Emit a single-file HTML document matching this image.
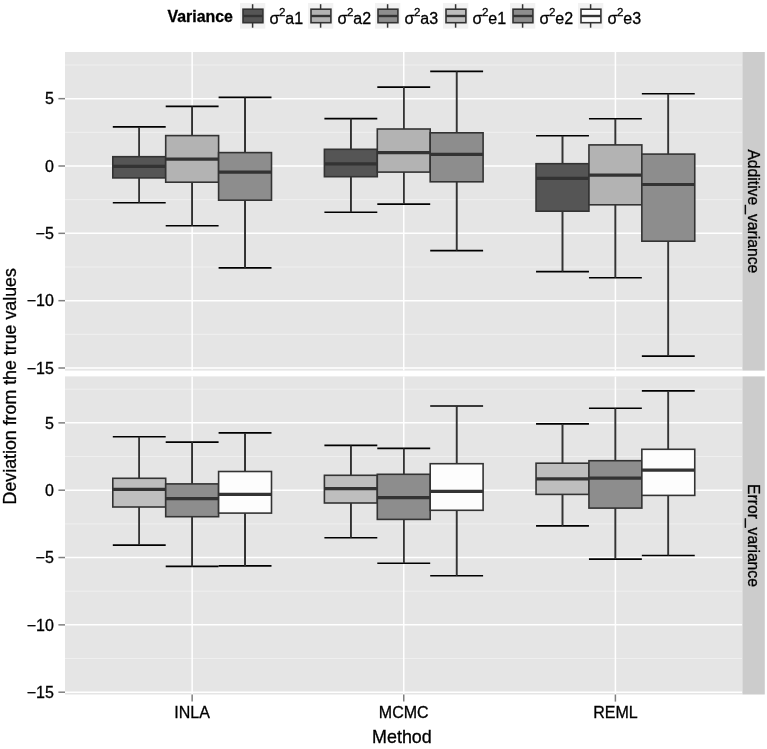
<!DOCTYPE html><html><head><meta charset="utf-8"><style>html,body{margin:0;padding:0;background:#fff;}svg{display:block;will-change:transform;}text{font-family:"Liberation Sans", sans-serif;fill:#000;stroke:#000;stroke-width:0.3px;}</style></head><body><svg width="767" height="749" viewBox="0 0 767 749"><rect x="0" y="0" width="767" height="749" fill="#fff"/><rect x="65.00" y="52.00" width="677.40" height="318.60" fill="#e5e5e5"/><line x1="65.00" x2="742.40" y1="65.00" y2="65.00" stroke="#f2f2f2" stroke-width="0.8"/><line x1="65.00" x2="742.40" y1="132.33" y2="132.33" stroke="#f2f2f2" stroke-width="0.8"/><line x1="65.00" x2="742.40" y1="199.67" y2="199.67" stroke="#f2f2f2" stroke-width="0.8"/><line x1="65.00" x2="742.40" y1="267.00" y2="267.00" stroke="#f2f2f2" stroke-width="0.8"/><line x1="65.00" x2="742.40" y1="334.34" y2="334.34" stroke="#f2f2f2" stroke-width="0.8"/><line x1="65.00" x2="742.40" y1="98.66" y2="98.66" stroke="#fff" stroke-width="1.5"/><line x1="65.00" x2="742.40" y1="166.00" y2="166.00" stroke="#fff" stroke-width="1.5"/><line x1="65.00" x2="742.40" y1="233.34" y2="233.34" stroke="#fff" stroke-width="1.5"/><line x1="65.00" x2="742.40" y1="300.67" y2="300.67" stroke="#fff" stroke-width="1.5"/><line x1="65.00" x2="742.40" y1="368.00" y2="368.00" stroke="#fff" stroke-width="1.5"/><line x1="192.15" x2="192.15" y1="52.00" y2="370.60" stroke="#fff" stroke-width="1.5"/><line x1="403.75" x2="403.75" y1="52.00" y2="370.60" stroke="#fff" stroke-width="1.5"/><line x1="615.40" x2="615.40" y1="52.00" y2="370.60" stroke="#fff" stroke-width="1.5"/><line x1="139.25" x2="139.25" y1="126.90" y2="202.70" stroke="#000" stroke-width="1.5"/><line x1="112.80" x2="165.70" y1="126.90" y2="126.90" stroke="#000" stroke-width="1.6"/><line x1="112.80" x2="165.70" y1="202.70" y2="202.70" stroke="#000" stroke-width="1.6"/><line x1="139.25" x2="139.25" y1="126.90" y2="156.70" stroke="#333" stroke-width="1.5"/><line x1="139.25" x2="139.25" y1="177.90" y2="202.70" stroke="#333" stroke-width="1.5"/><rect x="112.80" y="156.70" width="52.90" height="21.20" fill="#555555" stroke="#333" stroke-width="1.6"/><line x1="112.80" x2="165.70" y1="166.30" y2="166.30" stroke="#333" stroke-width="3.2"/><line x1="192.15" x2="192.15" y1="106.40" y2="225.80" stroke="#000" stroke-width="1.5"/><line x1="165.70" x2="218.60" y1="106.40" y2="106.40" stroke="#000" stroke-width="1.6"/><line x1="165.70" x2="218.60" y1="225.80" y2="225.80" stroke="#000" stroke-width="1.6"/><line x1="192.15" x2="192.15" y1="106.40" y2="135.60" stroke="#333" stroke-width="1.5"/><line x1="192.15" x2="192.15" y1="182.20" y2="225.80" stroke="#333" stroke-width="1.5"/><rect x="165.70" y="135.60" width="52.90" height="46.60" fill="#b3b3b3" stroke="#333" stroke-width="1.6"/><line x1="165.70" x2="218.60" y1="159.10" y2="159.10" stroke="#333" stroke-width="3.2"/><line x1="245.05" x2="245.05" y1="97.40" y2="267.90" stroke="#000" stroke-width="1.5"/><line x1="218.60" x2="271.50" y1="97.40" y2="97.40" stroke="#000" stroke-width="1.6"/><line x1="218.60" x2="271.50" y1="267.90" y2="267.90" stroke="#000" stroke-width="1.6"/><line x1="245.05" x2="245.05" y1="97.40" y2="152.60" stroke="#333" stroke-width="1.5"/><line x1="245.05" x2="245.05" y1="200.20" y2="267.90" stroke="#333" stroke-width="1.5"/><rect x="218.60" y="152.60" width="52.90" height="47.60" fill="#8d8d8d" stroke="#333" stroke-width="1.6"/><line x1="218.60" x2="271.50" y1="172.10" y2="172.10" stroke="#333" stroke-width="3.2"/><line x1="350.85" x2="350.85" y1="118.60" y2="212.30" stroke="#000" stroke-width="1.5"/><line x1="324.40" x2="377.30" y1="118.60" y2="118.60" stroke="#000" stroke-width="1.6"/><line x1="324.40" x2="377.30" y1="212.30" y2="212.30" stroke="#000" stroke-width="1.6"/><line x1="350.85" x2="350.85" y1="118.60" y2="149.30" stroke="#333" stroke-width="1.5"/><line x1="350.85" x2="350.85" y1="176.70" y2="212.30" stroke="#333" stroke-width="1.5"/><rect x="324.40" y="149.30" width="52.90" height="27.40" fill="#555555" stroke="#333" stroke-width="1.6"/><line x1="324.40" x2="377.30" y1="163.80" y2="163.80" stroke="#333" stroke-width="3.2"/><line x1="403.75" x2="403.75" y1="87.10" y2="204.10" stroke="#000" stroke-width="1.5"/><line x1="377.30" x2="430.20" y1="87.10" y2="87.10" stroke="#000" stroke-width="1.6"/><line x1="377.30" x2="430.20" y1="204.10" y2="204.10" stroke="#000" stroke-width="1.6"/><line x1="403.75" x2="403.75" y1="87.10" y2="129.00" stroke="#333" stroke-width="1.5"/><line x1="403.75" x2="403.75" y1="172.10" y2="204.10" stroke="#333" stroke-width="1.5"/><rect x="377.30" y="129.00" width="52.90" height="43.10" fill="#b3b3b3" stroke="#333" stroke-width="1.6"/><line x1="377.30" x2="430.20" y1="152.60" y2="152.60" stroke="#333" stroke-width="3.2"/><line x1="456.65" x2="456.65" y1="71.40" y2="250.60" stroke="#000" stroke-width="1.5"/><line x1="430.20" x2="483.10" y1="71.40" y2="71.40" stroke="#000" stroke-width="1.6"/><line x1="430.20" x2="483.10" y1="250.60" y2="250.60" stroke="#000" stroke-width="1.6"/><line x1="456.65" x2="456.65" y1="71.40" y2="132.80" stroke="#333" stroke-width="1.5"/><line x1="456.65" x2="456.65" y1="181.80" y2="250.60" stroke="#333" stroke-width="1.5"/><rect x="430.20" y="132.80" width="52.90" height="49.00" fill="#8d8d8d" stroke="#333" stroke-width="1.6"/><line x1="430.20" x2="483.10" y1="154.40" y2="154.40" stroke="#333" stroke-width="3.2"/><line x1="562.50" x2="562.50" y1="135.80" y2="271.60" stroke="#000" stroke-width="1.5"/><line x1="536.05" x2="588.95" y1="135.80" y2="135.80" stroke="#000" stroke-width="1.6"/><line x1="536.05" x2="588.95" y1="271.60" y2="271.60" stroke="#000" stroke-width="1.6"/><line x1="562.50" x2="562.50" y1="135.80" y2="163.70" stroke="#333" stroke-width="1.5"/><line x1="562.50" x2="562.50" y1="211.20" y2="271.60" stroke="#333" stroke-width="1.5"/><rect x="536.05" y="163.70" width="52.90" height="47.50" fill="#555555" stroke="#333" stroke-width="1.6"/><line x1="536.05" x2="588.95" y1="178.40" y2="178.40" stroke="#333" stroke-width="3.2"/><line x1="615.40" x2="615.40" y1="118.80" y2="277.80" stroke="#000" stroke-width="1.5"/><line x1="588.95" x2="641.85" y1="118.80" y2="118.80" stroke="#000" stroke-width="1.6"/><line x1="588.95" x2="641.85" y1="277.80" y2="277.80" stroke="#000" stroke-width="1.6"/><line x1="615.40" x2="615.40" y1="118.80" y2="144.90" stroke="#333" stroke-width="1.5"/><line x1="615.40" x2="615.40" y1="204.80" y2="277.80" stroke="#333" stroke-width="1.5"/><rect x="588.95" y="144.90" width="52.90" height="59.90" fill="#b3b3b3" stroke="#333" stroke-width="1.6"/><line x1="588.95" x2="641.85" y1="175.10" y2="175.10" stroke="#333" stroke-width="3.2"/><line x1="668.30" x2="668.30" y1="93.70" y2="356.10" stroke="#000" stroke-width="1.5"/><line x1="641.85" x2="694.75" y1="93.70" y2="93.70" stroke="#000" stroke-width="1.6"/><line x1="641.85" x2="694.75" y1="356.10" y2="356.10" stroke="#000" stroke-width="1.6"/><line x1="668.30" x2="668.30" y1="93.70" y2="154.10" stroke="#333" stroke-width="1.5"/><line x1="668.30" x2="668.30" y1="241.20" y2="356.10" stroke="#333" stroke-width="1.5"/><rect x="641.85" y="154.10" width="52.90" height="87.10" fill="#8d8d8d" stroke="#333" stroke-width="1.6"/><line x1="641.85" x2="694.75" y1="184.50" y2="184.50" stroke="#333" stroke-width="3.2"/><rect x="65.00" y="376.40" width="677.40" height="318.10" fill="#e5e5e5"/><line x1="65.00" x2="742.40" y1="389.20" y2="389.20" stroke="#f2f2f2" stroke-width="0.8"/><line x1="65.00" x2="742.40" y1="456.53" y2="456.53" stroke="#f2f2f2" stroke-width="0.8"/><line x1="65.00" x2="742.40" y1="523.87" y2="523.87" stroke="#f2f2f2" stroke-width="0.8"/><line x1="65.00" x2="742.40" y1="591.20" y2="591.20" stroke="#f2f2f2" stroke-width="0.8"/><line x1="65.00" x2="742.40" y1="658.54" y2="658.54" stroke="#f2f2f2" stroke-width="0.8"/><line x1="65.00" x2="742.40" y1="422.87" y2="422.87" stroke="#fff" stroke-width="1.5"/><line x1="65.00" x2="742.40" y1="490.20" y2="490.20" stroke="#fff" stroke-width="1.5"/><line x1="65.00" x2="742.40" y1="557.53" y2="557.53" stroke="#fff" stroke-width="1.5"/><line x1="65.00" x2="742.40" y1="624.87" y2="624.87" stroke="#fff" stroke-width="1.5"/><line x1="65.00" x2="742.40" y1="692.20" y2="692.20" stroke="#fff" stroke-width="1.5"/><line x1="192.15" x2="192.15" y1="376.40" y2="694.50" stroke="#fff" stroke-width="1.5"/><line x1="403.75" x2="403.75" y1="376.40" y2="694.50" stroke="#fff" stroke-width="1.5"/><line x1="615.40" x2="615.40" y1="376.40" y2="694.50" stroke="#fff" stroke-width="1.5"/><line x1="139.25" x2="139.25" y1="436.70" y2="545.10" stroke="#000" stroke-width="1.5"/><line x1="112.80" x2="165.70" y1="436.70" y2="436.70" stroke="#000" stroke-width="1.6"/><line x1="112.80" x2="165.70" y1="545.10" y2="545.10" stroke="#000" stroke-width="1.6"/><line x1="139.25" x2="139.25" y1="436.70" y2="478.30" stroke="#333" stroke-width="1.5"/><line x1="139.25" x2="139.25" y1="507.00" y2="545.10" stroke="#333" stroke-width="1.5"/><rect x="112.80" y="478.30" width="52.90" height="28.70" fill="#bebebe" stroke="#333" stroke-width="1.6"/><line x1="112.80" x2="165.70" y1="489.30" y2="489.30" stroke="#333" stroke-width="3.2"/><line x1="192.15" x2="192.15" y1="442.10" y2="566.40" stroke="#000" stroke-width="1.5"/><line x1="165.70" x2="218.60" y1="442.10" y2="442.10" stroke="#000" stroke-width="1.6"/><line x1="165.70" x2="218.60" y1="566.40" y2="566.40" stroke="#000" stroke-width="1.6"/><line x1="192.15" x2="192.15" y1="442.10" y2="483.90" stroke="#333" stroke-width="1.5"/><line x1="192.15" x2="192.15" y1="516.70" y2="566.40" stroke="#333" stroke-width="1.5"/><rect x="165.70" y="483.90" width="52.90" height="32.80" fill="#8d8d8d" stroke="#333" stroke-width="1.6"/><line x1="165.70" x2="218.60" y1="498.60" y2="498.60" stroke="#333" stroke-width="3.2"/><line x1="245.05" x2="245.05" y1="432.90" y2="565.90" stroke="#000" stroke-width="1.5"/><line x1="218.60" x2="271.50" y1="432.90" y2="432.90" stroke="#000" stroke-width="1.6"/><line x1="218.60" x2="271.50" y1="565.90" y2="565.90" stroke="#000" stroke-width="1.6"/><line x1="245.05" x2="245.05" y1="432.90" y2="471.50" stroke="#333" stroke-width="1.5"/><line x1="245.05" x2="245.05" y1="513.10" y2="565.90" stroke="#333" stroke-width="1.5"/><rect x="218.60" y="471.50" width="52.90" height="41.60" fill="#fdfdfd" stroke="#333" stroke-width="1.6"/><line x1="218.60" x2="271.50" y1="494.30" y2="494.30" stroke="#333" stroke-width="3.2"/><line x1="350.85" x2="350.85" y1="445.40" y2="537.70" stroke="#000" stroke-width="1.5"/><line x1="324.40" x2="377.30" y1="445.40" y2="445.40" stroke="#000" stroke-width="1.6"/><line x1="324.40" x2="377.30" y1="537.70" y2="537.70" stroke="#000" stroke-width="1.6"/><line x1="350.85" x2="350.85" y1="445.40" y2="475.30" stroke="#333" stroke-width="1.5"/><line x1="350.85" x2="350.85" y1="503.00" y2="537.70" stroke="#333" stroke-width="1.5"/><rect x="324.40" y="475.30" width="52.90" height="27.70" fill="#bebebe" stroke="#333" stroke-width="1.6"/><line x1="324.40" x2="377.30" y1="488.70" y2="488.70" stroke="#333" stroke-width="3.2"/><line x1="403.75" x2="403.75" y1="448.40" y2="563.30" stroke="#000" stroke-width="1.5"/><line x1="377.30" x2="430.20" y1="448.40" y2="448.40" stroke="#000" stroke-width="1.6"/><line x1="377.30" x2="430.20" y1="563.30" y2="563.30" stroke="#000" stroke-width="1.6"/><line x1="403.75" x2="403.75" y1="448.40" y2="474.30" stroke="#333" stroke-width="1.5"/><line x1="403.75" x2="403.75" y1="519.40" y2="563.30" stroke="#333" stroke-width="1.5"/><rect x="377.30" y="474.30" width="52.90" height="45.10" fill="#8d8d8d" stroke="#333" stroke-width="1.6"/><line x1="377.30" x2="430.20" y1="497.60" y2="497.60" stroke="#333" stroke-width="3.2"/><line x1="456.65" x2="456.65" y1="406.00" y2="575.80" stroke="#000" stroke-width="1.5"/><line x1="430.20" x2="483.10" y1="406.00" y2="406.00" stroke="#000" stroke-width="1.6"/><line x1="430.20" x2="483.10" y1="575.80" y2="575.80" stroke="#000" stroke-width="1.6"/><line x1="456.65" x2="456.65" y1="406.00" y2="463.70" stroke="#333" stroke-width="1.5"/><line x1="456.65" x2="456.65" y1="510.30" y2="575.80" stroke="#333" stroke-width="1.5"/><rect x="430.20" y="463.70" width="52.90" height="46.60" fill="#fdfdfd" stroke="#333" stroke-width="1.6"/><line x1="430.20" x2="483.10" y1="491.30" y2="491.30" stroke="#333" stroke-width="3.2"/><line x1="562.50" x2="562.50" y1="423.90" y2="525.90" stroke="#000" stroke-width="1.5"/><line x1="536.05" x2="588.95" y1="423.90" y2="423.90" stroke="#000" stroke-width="1.6"/><line x1="536.05" x2="588.95" y1="525.90" y2="525.90" stroke="#000" stroke-width="1.6"/><line x1="562.50" x2="562.50" y1="423.90" y2="463.20" stroke="#333" stroke-width="1.5"/><line x1="562.50" x2="562.50" y1="494.40" y2="525.90" stroke="#333" stroke-width="1.5"/><rect x="536.05" y="463.20" width="52.90" height="31.20" fill="#bebebe" stroke="#333" stroke-width="1.6"/><line x1="536.05" x2="588.95" y1="478.80" y2="478.80" stroke="#333" stroke-width="3.2"/><line x1="615.40" x2="615.40" y1="408.20" y2="559.10" stroke="#000" stroke-width="1.5"/><line x1="588.95" x2="641.85" y1="408.20" y2="408.20" stroke="#000" stroke-width="1.6"/><line x1="588.95" x2="641.85" y1="559.10" y2="559.10" stroke="#000" stroke-width="1.6"/><line x1="615.40" x2="615.40" y1="408.20" y2="460.70" stroke="#333" stroke-width="1.5"/><line x1="615.40" x2="615.40" y1="508.10" y2="559.10" stroke="#333" stroke-width="1.5"/><rect x="588.95" y="460.70" width="52.90" height="47.40" fill="#8d8d8d" stroke="#333" stroke-width="1.6"/><line x1="588.95" x2="641.85" y1="478.20" y2="478.20" stroke="#333" stroke-width="3.2"/><line x1="668.30" x2="668.30" y1="390.90" y2="555.50" stroke="#000" stroke-width="1.5"/><line x1="641.85" x2="694.75" y1="390.90" y2="390.90" stroke="#000" stroke-width="1.6"/><line x1="641.85" x2="694.75" y1="555.50" y2="555.50" stroke="#000" stroke-width="1.6"/><line x1="668.30" x2="668.30" y1="390.90" y2="449.30" stroke="#333" stroke-width="1.5"/><line x1="668.30" x2="668.30" y1="495.40" y2="555.50" stroke="#333" stroke-width="1.5"/><rect x="641.85" y="449.30" width="52.90" height="46.10" fill="#fdfdfd" stroke="#333" stroke-width="1.6"/><line x1="641.85" x2="694.75" y1="470.20" y2="470.20" stroke="#333" stroke-width="3.2"/><rect x="742.40" y="52.00" width="22.40" height="318.60" fill="#cccccc"/><text x="0" y="0" transform="translate(753.60,211.30) rotate(90)" font-size="15.7" text-anchor="middle" dominant-baseline="central" fill="#1a1a1a">Additive_variance</text><rect x="742.40" y="376.40" width="22.40" height="318.10" fill="#cccccc"/><text x="0" y="0" transform="translate(753.60,535.45) rotate(90)" font-size="15.7" text-anchor="middle" dominant-baseline="central" fill="#1a1a1a">Error_variance</text><line x1="58.4" x2="65.00" y1="98.66" y2="98.66" stroke="#7f7f7f" stroke-width="1.5"/><text x="53.8" y="104.36" font-size="16" text-anchor="end" fill="#1a1a1a">5</text><line x1="58.4" x2="65.00" y1="166.00" y2="166.00" stroke="#7f7f7f" stroke-width="1.5"/><text x="53.8" y="171.70" font-size="16" text-anchor="end" fill="#1a1a1a">0</text><line x1="58.4" x2="65.00" y1="233.34" y2="233.34" stroke="#7f7f7f" stroke-width="1.5"/><text x="53.8" y="239.03" font-size="16" text-anchor="end" fill="#1a1a1a">−5</text><line x1="58.4" x2="65.00" y1="300.67" y2="300.67" stroke="#7f7f7f" stroke-width="1.5"/><text x="53.8" y="306.37" font-size="16" text-anchor="end" fill="#1a1a1a">−10</text><line x1="58.4" x2="65.00" y1="368.00" y2="368.00" stroke="#7f7f7f" stroke-width="1.5"/><text x="53.8" y="373.70" font-size="16" text-anchor="end" fill="#1a1a1a">−15</text><line x1="58.4" x2="65.00" y1="422.87" y2="422.87" stroke="#7f7f7f" stroke-width="1.5"/><text x="53.8" y="428.56" font-size="16" text-anchor="end" fill="#1a1a1a">5</text><line x1="58.4" x2="65.00" y1="490.20" y2="490.20" stroke="#7f7f7f" stroke-width="1.5"/><text x="53.8" y="495.90" font-size="16" text-anchor="end" fill="#1a1a1a">0</text><line x1="58.4" x2="65.00" y1="557.53" y2="557.53" stroke="#7f7f7f" stroke-width="1.5"/><text x="53.8" y="563.24" font-size="16" text-anchor="end" fill="#1a1a1a">−5</text><line x1="58.4" x2="65.00" y1="624.87" y2="624.87" stroke="#7f7f7f" stroke-width="1.5"/><text x="53.8" y="630.57" font-size="16" text-anchor="end" fill="#1a1a1a">−10</text><line x1="58.4" x2="65.00" y1="692.20" y2="692.20" stroke="#7f7f7f" stroke-width="1.5"/><text x="53.8" y="697.90" font-size="16" text-anchor="end" fill="#1a1a1a">−15</text><line x1="192.15" x2="192.15" y1="694.50" y2="701.6" stroke="#7f7f7f" stroke-width="1.5"/><text x="192.15" y="717.6" font-size="16" text-anchor="middle" fill="#1a1a1a">INLA</text><line x1="403.75" x2="403.75" y1="694.50" y2="701.6" stroke="#7f7f7f" stroke-width="1.5"/><text x="403.75" y="717.6" font-size="16" text-anchor="middle" fill="#1a1a1a">MCMC</text><line x1="615.40" x2="615.40" y1="694.50" y2="701.6" stroke="#7f7f7f" stroke-width="1.5"/><text x="615.40" y="717.6" font-size="16" text-anchor="middle" fill="#1a1a1a">REML</text><text x="401.95" y="742.8" font-size="17.9" text-anchor="middle" fill="#000">Method</text><text x="0" y="0" transform="translate(15.8,386.30) rotate(-90)" font-size="17.8" text-anchor="middle" fill="#000">Deviation from the true values</text><text x="167.5" y="21.7" font-size="15.9" font-weight="bold" fill="#000">Variance</text><rect x="240.00" y="3.0" width="25.3" height="25.7" fill="#f2f2f2"/><line x1="252.60" x2="252.60" y1="4.2" y2="27.7" stroke="#333" stroke-width="1.5"/><rect x="243.00" y="9.2" width="19.9" height="13.5" fill="#555555" stroke="#333" stroke-width="1.6"/><line x1="243.00" x2="262.90" y1="16.0" y2="16.0" stroke="#333" stroke-width="2.4"/><text x="269.50" y="23.7" font-size="16" fill="#000">σ</text><text x="278.90" y="16.0" font-size="11.5" fill="#000">2</text><text x="285.30" y="23.7" font-size="16" fill="#000">a1</text><rect x="308.00" y="3.0" width="25.3" height="25.7" fill="#f2f2f2"/><line x1="320.60" x2="320.60" y1="4.2" y2="27.7" stroke="#333" stroke-width="1.5"/><rect x="311.00" y="9.2" width="19.9" height="13.5" fill="#b3b3b3" stroke="#333" stroke-width="1.6"/><line x1="311.00" x2="330.90" y1="16.0" y2="16.0" stroke="#333" stroke-width="2.4"/><text x="337.50" y="23.7" font-size="16" fill="#000">σ</text><text x="346.90" y="16.0" font-size="11.5" fill="#000">2</text><text x="353.30" y="23.7" font-size="16" fill="#000">a2</text><rect x="375.00" y="3.0" width="25.3" height="25.7" fill="#f2f2f2"/><line x1="387.60" x2="387.60" y1="4.2" y2="27.7" stroke="#333" stroke-width="1.5"/><rect x="378.00" y="9.2" width="19.9" height="13.5" fill="#8d8d8d" stroke="#333" stroke-width="1.6"/><line x1="378.00" x2="397.90" y1="16.0" y2="16.0" stroke="#333" stroke-width="2.4"/><text x="404.50" y="23.7" font-size="16" fill="#000">σ</text><text x="413.90" y="16.0" font-size="11.5" fill="#000">2</text><text x="420.30" y="23.7" font-size="16" fill="#000">a3</text><rect x="443.00" y="3.0" width="25.3" height="25.7" fill="#f2f2f2"/><line x1="455.60" x2="455.60" y1="4.2" y2="27.7" stroke="#333" stroke-width="1.5"/><rect x="446.00" y="9.2" width="19.9" height="13.5" fill="#bebebe" stroke="#333" stroke-width="1.6"/><line x1="446.00" x2="465.90" y1="16.0" y2="16.0" stroke="#333" stroke-width="2.4"/><text x="472.50" y="23.7" font-size="16" fill="#000">σ</text><text x="481.90" y="16.0" font-size="11.5" fill="#000">2</text><text x="488.30" y="23.7" font-size="16" fill="#000">e1</text><rect x="510.00" y="3.0" width="25.3" height="25.7" fill="#f2f2f2"/><line x1="522.60" x2="522.60" y1="4.2" y2="27.7" stroke="#333" stroke-width="1.5"/><rect x="513.00" y="9.2" width="19.9" height="13.5" fill="#8d8d8d" stroke="#333" stroke-width="1.6"/><line x1="513.00" x2="532.90" y1="16.0" y2="16.0" stroke="#333" stroke-width="2.4"/><text x="539.50" y="23.7" font-size="16" fill="#000">σ</text><text x="548.90" y="16.0" font-size="11.5" fill="#000">2</text><text x="555.30" y="23.7" font-size="16" fill="#000">e2</text><rect x="578.00" y="3.0" width="25.3" height="25.7" fill="#f2f2f2"/><line x1="590.60" x2="590.60" y1="4.2" y2="27.7" stroke="#333" stroke-width="1.5"/><rect x="581.00" y="9.2" width="19.9" height="13.5" fill="#fdfdfd" stroke="#333" stroke-width="1.6"/><line x1="581.00" x2="600.90" y1="16.0" y2="16.0" stroke="#333" stroke-width="2.4"/><text x="607.50" y="23.7" font-size="16" fill="#000">σ</text><text x="616.90" y="16.0" font-size="11.5" fill="#000">2</text><text x="623.30" y="23.7" font-size="16" fill="#000">e3</text></svg></body></html>
